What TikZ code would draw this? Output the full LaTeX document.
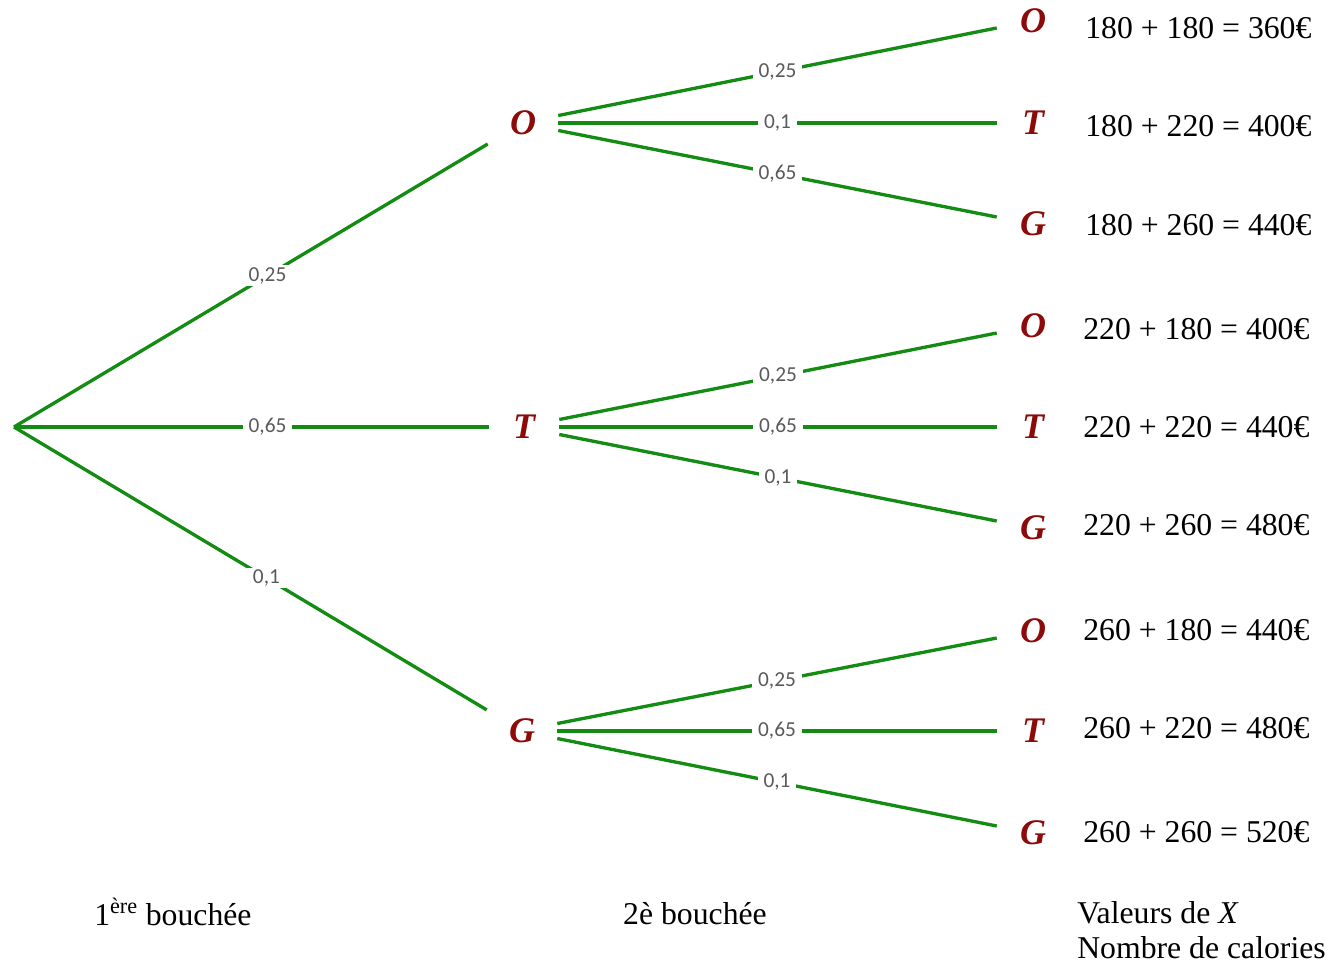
\documentclass[tikz,border=0pt]{standalone}
\usepackage{fontspec}
\setmainfont{Liberation Serif}
\newfontfamily\labelfont{Carlito}
\usetikzlibrary{calc}
\definecolor{branch}{RGB}{20,140,20}
\definecolor{event}{RGB}{140,10,10}
\definecolor{prob}{RGB}{90,90,90}
\begin{document}
\begin{tikzpicture}[x=0.75pt,y=-0.75pt,
  evt/.style={font=\fontsize{27}{30}\selectfont\bfseries\itshape, text=event,
    minimum width=52.5pt, minimum height=36pt, inner sep=0pt},
  leaf/.style={evt, minimum width=54pt},
  br/.style={draw=branch, line width=2.5pt},
  lbl/.style={font=\labelfont\fontsize{16}{18}\selectfont, text=prob, fill=white,
    inner xsep=4.5pt, inner ysep=1.5pt},
  val/.style={font=\fontsize{23.8}{26}\selectfont, anchor=west, inner sep=0pt},
  colcaption/.style={font=\fontsize{23.8}{26}\selectfont, inner sep=0pt}]
\useasboundingbox (0,0) rectangle (1326,964);

% root and first draw
\coordinate (r) at (14,427);
\node[evt] (o) at (523,123) {O};
\node[evt] (t) at (524,427) {T};
\node[evt] (g) at (522,731) {G};

\draw[br] (r) -- node[lbl, pos=0.535] {0,25} (o);
\draw[br] (r) -- node[lbl, pos=0.534] {0,65} (t);
\draw[br] (r) -- node[lbl, pos=0.534] {0,1} (g);

% second draw
\node[leaf] (oo) at (1033,21) {O};
\node[leaf] (ot) at (1033,123) {T};
\node[leaf] (og) at (1033,224) {G};
\node[leaf] (to) at (1033,326) {O};
\node[leaf] (tt) at (1033,427) {T};
\node[leaf] (tg) at (1033,528) {G};
\node[leaf] (go) at (1033,631) {O};
\node[leaf] (gt) at (1033,731) {T};
\node[leaf] (gg) at (1033,833) {G};

\foreach \p/\a/\la/\b/\lb/\c/\lc in {o/oo/{0,25}/ot/{0,1}/og/{0,65},
                                     t/to/{0,25}/tt/{0,65}/tg/{0,1},
                                     g/go/{0,25}/gt/{0,65}/gg/{0,1}}{
  \draw[br] ($(\p.east)+(0,-7.5)$) -- node[lbl] {\la} ($(\a.west)+(0,7)$);
  \draw[br] (\p.east) -- node[lbl] {\lb} (\b.west);
  \draw[br] ($(\p.east)+(0,7.5)$) -- node[lbl] {\lc} ($(\c.west)+(0,-7)$);
}

% values of X
\node[val] (v1) at (1085,28)  {180 + 180 = 360€};
\node[val] (v2) at (1085,126) {180 + 220 = 400€};
\node[val] (v3) at (1085,225) {180 + 260 = 440€};
\node[val] (v4) at (1083,329) {220 + 180 = 400€};
\node[val] (v5) at (1083,427) {220 + 220 = 440€};
\node[val] (v6) at (1083,525) {220 + 260 = 480€};
\node[val] (v7) at (1083,630) {260 + 180 = 440€};
\node[val] (v8) at (1083,728) {260 + 220 = 480€};
\node[val] (v9) at (1083,832) {260 + 260 = 520€};

% column captions
\node[colcaption, anchor=west] (c1) at (94,912) {1\textsuperscript{ère} bouchée};
\node[colcaption] (c2) at (695,914) {2è bouchée};
\node[colcaption, anchor=north west, align=left,
  font=\fontsize{23.8}{26.5}\selectfont] (c3) at (1077,901)
  {Valeurs de \textit{X}\\Nombre de calories};
\end{tikzpicture}
\end{document}
